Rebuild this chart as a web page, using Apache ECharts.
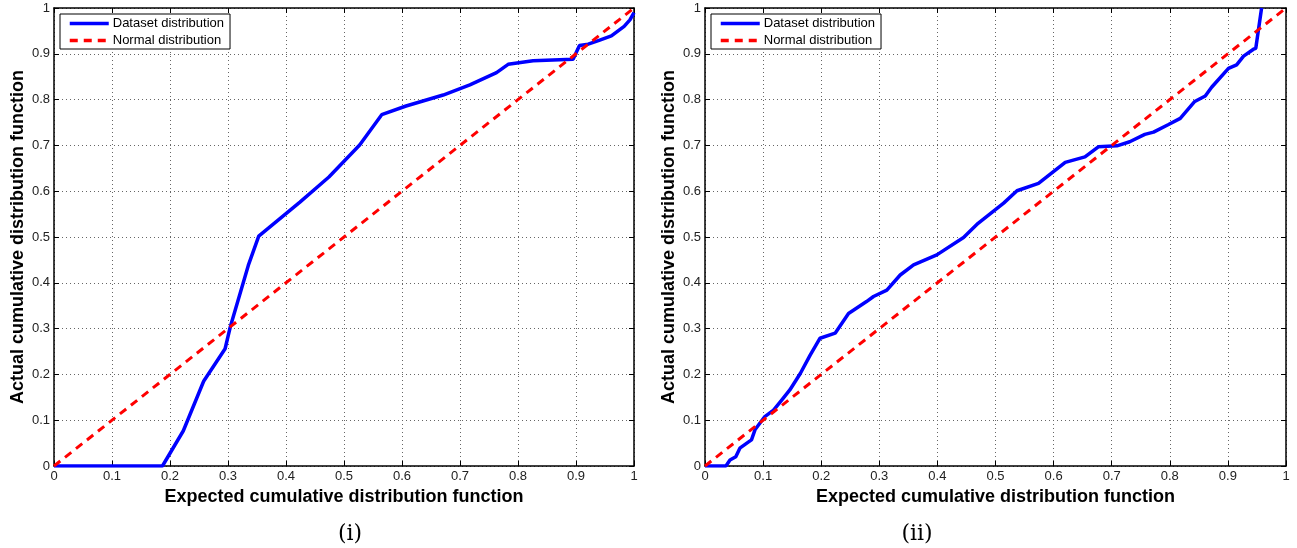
<!DOCTYPE html>
<html><head><meta charset="utf-8">
<script src="https://cdn.jsdelivr.net/npm/echarts@6/dist/echarts.min.js"></script>
<style>html,body{margin:0;padding:0;background:#fff}#c{width:1297px;height:548px}</style>
</head><body><div id="c"></div>
<script>
// ---- data ----
const leftDataset = [
  [0,0],[0.187,0],[0.223,0.077],[0.258,0.185],[0.295,0.256],[0.304,0.304],[0.335,0.438],[0.353,0.502],
  [0.424,0.576],[0.474,0.631],[0.527,0.701],[0.565,0.767],[0.607,0.786],[0.671,0.810],[0.717,0.832],
  [0.763,0.859],[0.783,0.877],[0.826,0.885],[0.895,0.888],[0.906,0.918],[0.921,0.921],[0.941,0.930],
  [0.961,0.939],[0.983,0.960],[0.993,0.974],[1.0,0.99]
];
const rightDataset = [
  [0,0],[0.036,0],[0.043,0.013],[0.053,0.020],[0.060,0.039],[0.072,0.050],[0.080,0.057],[0.086,0.079],
  [0.103,0.108],[0.118,0.122],[0.132,0.144],[0.146,0.166],[0.164,0.202],[0.181,0.242],[0.198,0.279],
  [0.224,0.290],[0.247,0.333],[0.278,0.359],[0.290,0.370],[0.313,0.384],[0.336,0.417],[0.359,0.439],
  [0.399,0.461],[0.445,0.499],[0.470,0.530],[0.514,0.574],[0.537,0.601],[0.574,0.617],[0.620,0.663],
  [0.654,0.675],[0.677,0.697],[0.709,0.699],[0.731,0.708],[0.757,0.724],[0.772,0.729],[0.797,0.745],
  [0.818,0.759],[0.843,0.796],[0.861,0.808],[0.872,0.827],[0.901,0.868],[0.915,0.876],[0.927,0.895],
  [0.944,0.910],[0.948,0.912],[0.958,1.0]
];
const normalLine = [[0,0],[1,1]];
const axisMin = 0, axisMax = 1, axisStep = 0.1;
const seriesNames = ['Dataset distribution', 'Normal distribution'];
const xAxisTitle = 'Expected cumulative distribution function';
const yAxisTitle = 'Actual cumulative distribution function';
const panelCaptions = ['(i)', '(ii)'];

// ---- chart ----
const FONT = '"Liberation Sans", Arial, Helvetica, sans-serif';
const grids = [
  {left: 54, right: 663, top: 8, bottom: 82},
  {left: 705, right: 11, top: 8, bottom: 82}
];
function fmt(v){ return String(Math.round(v*10)/10); }
function mainX(gi){
  return {type:'value', gridIndex:gi, position:'bottom', min:axisMin, max:axisMax, interval:axisStep,
    name:xAxisTitle, nameLocation:'middle', nameGap:17,
    nameTextStyle:{fontFamily:FONT, fontWeight:'bold', fontSize:18, color:'#000'},
    axisLine:{show:true, onZero:false, lineStyle:{color:'#000', width:1.5}},
    axisTick:{show:true, inside:true, length:5, lineStyle:{color:'#000'}},
    axisLabel:{fontFamily:FONT, fontSize:13, color:'#222', margin:4, formatter:fmt},
    splitLine:{show:true, lineStyle:{color:'#666', type:[1,3], width:1}}};
}
function sideX(gi){
  return {type:'value', gridIndex:gi, position:'top', min:axisMin, max:axisMax, interval:axisStep,
    axisLine:{show:true, onZero:false, lineStyle:{color:'#000', width:1.5}},
    axisTick:{show:true, inside:true, length:5, lineStyle:{color:'#000'}},
    axisLabel:{show:false}, splitLine:{show:false}};
}
function mainY(gi){
  return {type:'value', gridIndex:gi, position:'left', min:axisMin, max:axisMax, interval:axisStep,
    name:yAxisTitle, nameLocation:'middle', nameGap:27, nameRotate:90,
    nameTextStyle:{fontFamily:FONT, fontWeight:'bold', fontSize:18, color:'#000'},
    axisLine:{show:true, onZero:false, lineStyle:{color:'#000', width:1.5}},
    axisTick:{show:true, inside:true, length:5, lineStyle:{color:'#000'}},
    axisLabel:{fontFamily:FONT, fontSize:13, color:'#222', margin:4, formatter:fmt},
    splitLine:{show:true, lineStyle:{color:'#666', type:[1,3], width:1}}};
}
function sideY(gi){
  return {type:'value', gridIndex:gi, position:'right', min:axisMin, max:axisMax, interval:axisStep,
    axisLine:{show:true, onZero:false, lineStyle:{color:'#000', width:1.5}},
    axisTick:{show:true, inside:true, length:5, lineStyle:{color:'#000'}},
    axisLabel:{show:false}, splitLine:{show:false}};
}
function legendAt(left){
  return {left:left, top:14, orient:'vertical', data:seriesNames,
    backgroundColor:'#fff', borderColor:'#000', borderWidth:1, borderRadius:0,
    padding:[3,6,2,8], itemGap:4, itemWidth:39, itemHeight:14,
    itemStyle:{opacity:0, borderWidth:0},
    lineStyle:{width:3.5},
    textStyle:{fontFamily:FONT, fontSize:13, color:'#000', padding:[0,0,0,-1]}};
}
function seriesFor(gi, dataset){
  return [
    {name:seriesNames[0], type:'line', xAxisIndex:gi*2, yAxisIndex:gi*2, data:dataset,
     symbol:'none', smooth:false, z:3, lineStyle:{color:'#0000ff', width:3.5}, itemStyle:{color:'#0000ff'}},
    {name:seriesNames[1], type:'line', xAxisIndex:gi*2, yAxisIndex:gi*2, data:normalLine,
     symbol:'none', z:4, lineStyle:{color:'#ff0000', width:3, type:[8,6]}, itemStyle:{color:'#ff0000'}}
  ];
}
const chart = echarts.init(document.getElementById('c'), null, {renderer:'canvas'});
chart.setOption({
  animation:false,
  backgroundColor:'#fff',
  title:[
    {text:panelCaptions[0], left:345, top:518, textAlign:'center',
     textStyle:{fontFamily:'"DejaVu Serif", "Liberation Serif", serif', fontWeight:'normal', fontSize:22, color:'#000'}},
    {text:panelCaptions[1], left:912, top:518, textAlign:'center',
     textStyle:{fontFamily:'"DejaVu Serif", "Liberation Serif", serif', fontWeight:'normal', fontSize:22, color:'#000'}}
  ],
  grid:grids,
  legend:[legendAt(60), legendAt(711)],
  xAxis:[mainX(0), sideX(0), mainX(1), sideX(1)],
  yAxis:[mainY(0), sideY(0), mainY(1), sideY(1)],
  series:[...seriesFor(0, leftDataset), ...seriesFor(1, rightDataset)]
});
</script></body></html>
